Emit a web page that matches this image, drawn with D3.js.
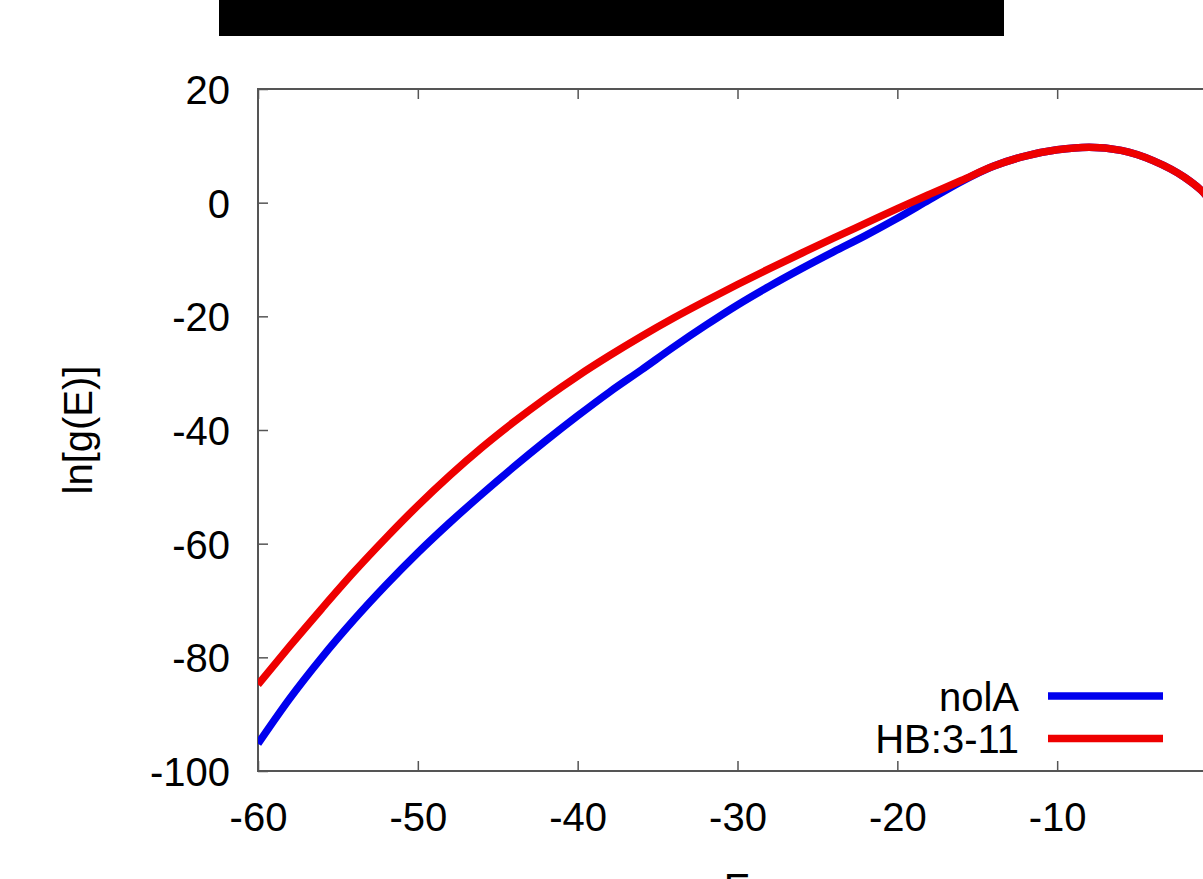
<!DOCTYPE html>
<html>
<head>
<meta charset="utf-8">
<script src="https://cdn.jsdelivr.net/npm/d3@7/dist/d3.min.js"></script>
<style>
  html, body { margin: 0; padding: 0; background: #fff; }
  svg { display: block; }
  text { font-family: "Liberation Sans", Arial, Helvetica, sans-serif; fill: #000; }
</style>
</head>
<body>
<svg id="chart" width="1203" height="879"></svg>
<script>
// ---- data ----
const energy = [-60,-58,-56,-54,-52,-50,-48,-46,-44,-42,-40,-38,-36,-34,-32,-30,-28,-26,-24,-22,-20,-18,-16,-14,-12,-10,-8,-6,-4,-2,-1,0];
const noIA   = [-95.2,-87.2,-80.0,-73.4,-67.3,-61.6,-56.3,-51.3,-46.5,-41.9,-37.5,-33.3,-29.4,-25.4,-21.6,-18.0,-14.7,-11.6,-8.65,-5.8,-2.75,0.5,3.7,6.4,8.2,9.3,9.75,9.2,7.4,4.4,2.2,-1.0];
const hb311  = [-84.8,-78.0,-71.4,-65.0,-59.0,-53.3,-48.0,-43.1,-38.6,-34.4,-30.5,-26.9,-23.5,-20.3,-17.3,-14.4,-11.6,-8.9,-6.25,-3.65,-1.05,1.45,3.9,6.4,8.2,9.3,9.75,9.2,7.4,4.4,2.2,-1.0];
const seriesNames = ["noIA", "HB:3-11"];
const legendLabels = ["nolA", "HB:3-11"];
const seriesColors = ["#0000ee", "#ee0000"];
const xTicks = [-60,-50,-40,-30,-20,-10,0];
const xTickLabels = ["-60","-50","-40","-30","-20","-10",""];
const yTicks = [20,0,-20,-40,-60,-80,-100];
const yTickLabels = ["20","0","-20","-40","-60","-80","-100"];
const xTitle = "E";
const yTitle = "ln[g(E)]";

// ---- layout ----
const svg = d3.select("#chart");
const pL = 258, pR = 1217, pT = 89, pB = 771;
const x = d3.scaleLinear().domain([-60, 0]).range([pL, pR]);
const y = d3.scaleLinear().domain([-100, 20]).range([pB, pT]);

// redacted title bar
svg.append("rect").attr("x", 219).attr("y", 0).attr("width", 785).attr("height", 36).attr("fill", "#000");

const axisColor = "#555";
// frame
svg.append("rect").attr("x", pL).attr("y", pT).attr("width", pR - pL).attr("height", pB - pT)
  .attr("fill", "none").attr("stroke", axisColor).attr("stroke-width", 2);

// ticks (inward, mirrored top)
const tickLen = 10;
const xAxisB = d3.axisBottom(x).tickValues(xTicks).tickSize(-tickLen).tickPadding(31)
  .tickFormat((d, i) => xTickLabels[i]);
const gxb = svg.append("g").attr("transform", `translate(0,${pB})`).call(xAxisB);
const xAxisT = d3.axisTop(x).tickValues(xTicks).tickSize(-tickLen).tickFormat("");
const gxt = svg.append("g").attr("transform", `translate(0,${pT})`).call(xAxisT);
const yAxisL = d3.axisLeft(y).tickValues(yTicks).tickSize(-tickLen).tickPadding(28)
  .tickFormat((d, i) => yTickLabels[i]);
const gyl = svg.append("g").attr("transform", `translate(${pL},0)`).call(yAxisL);
[gxb, gxt, gyl].forEach(g => {
  g.select(".domain").remove();
  g.selectAll(".tick line").attr("stroke", axisColor).attr("stroke-width", 1.5);
  g.selectAll(".tick text").attr("font-size", 40).attr("font-family", "Liberation Sans, Arial, sans-serif").attr("fill", "#000");
});
gyl.selectAll(".tick text").attr("dy", "0.36em");
gxb.selectAll(".tick text").attr("dy", "0.72em");

// axis titles
svg.append("text").attr("x", 737).attr("y", 902).attr("text-anchor", "middle").attr("font-size", 40).text(xTitle);
svg.append("text").attr("transform", "translate(92,430) rotate(-90)").attr("text-anchor", "middle").attr("font-size", 40).text(yTitle);

// lines
svg.append("clipPath").attr("id", "clip").append("rect")
  .attr("x", pL).attr("y", pT).attr("width", pR - pL).attr("height", pB - pT);
const allSeries = [noIA, hb311];
const line = d3.line().x((d, i) => x(energy[i])).y(d => y(d)).curve(d3.curveMonotoneX);
const plot = svg.append("g").attr("clip-path", "url(#clip)");
allSeries.forEach((vals, k) => {
  plot.append("path").datum(vals).attr("d", line).attr("fill", "none")
    .attr("stroke", seriesColors[k]).attr("stroke-width", 7.5).attr("stroke-linejoin", "round").attr("stroke-linecap", "butt");
});

// legend
const legY = [696, 738.5];
legendLabels.forEach((lab, k) => {
  svg.append("line").attr("x1", 1048).attr("x2", 1163).attr("y1", legY[k]).attr("y2", legY[k])
    .attr("stroke", seriesColors[k]).attr("stroke-width", 7.5);
  svg.append("text").attr("x", 1019).attr("y", legY[k] + 14.5).attr("text-anchor", "end").attr("font-size", 40).text(lab);
});
</script>
</body>
</html>
